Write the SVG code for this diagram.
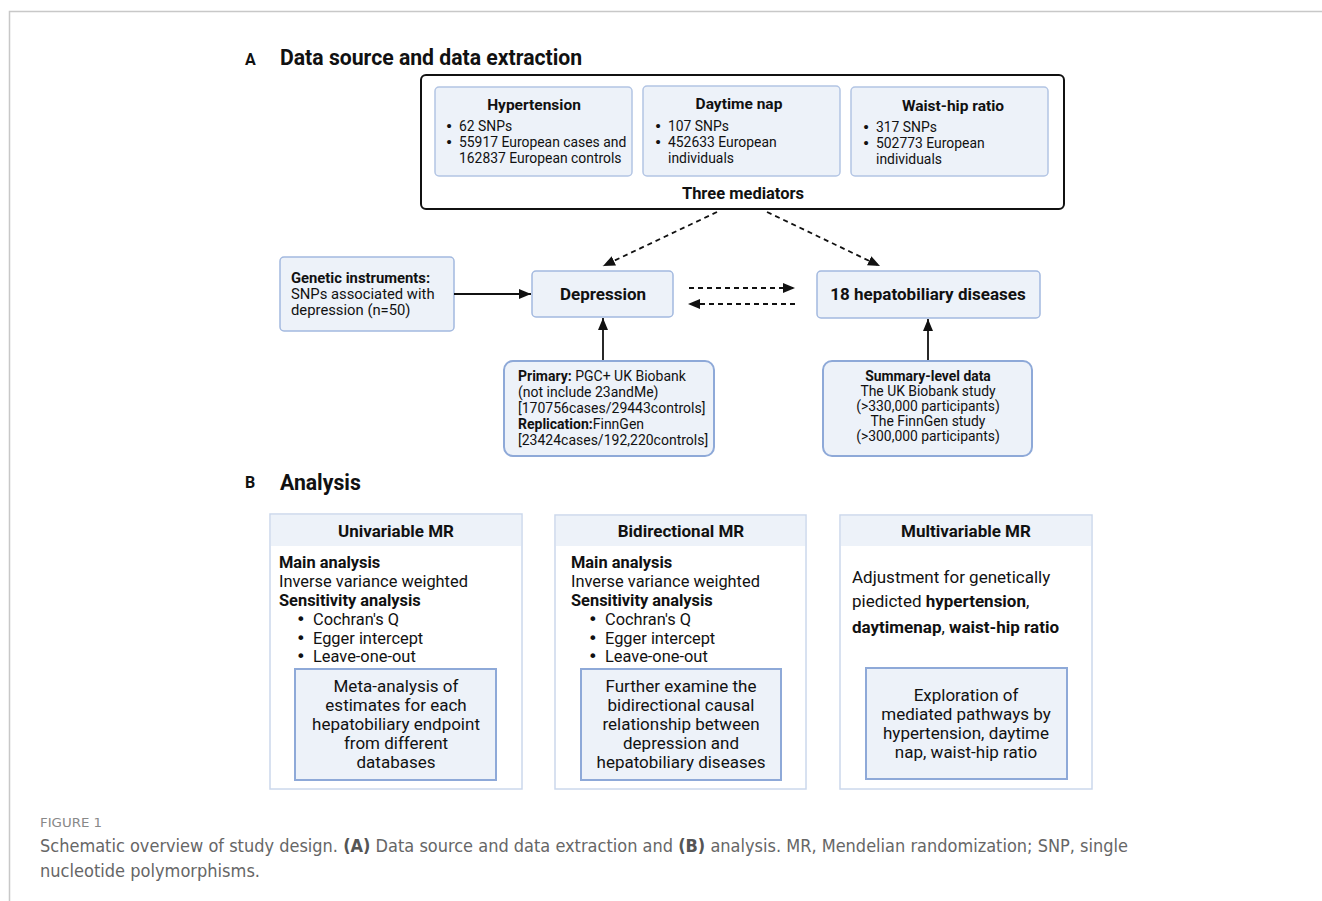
<svg xmlns="http://www.w3.org/2000/svg" width="1322" height="901" viewBox="0 0 1322 901">
<defs>
<style>
text{font-family:Roboto,"Liberation Sans",sans-serif;fill:#111;}
.b{font-weight:bold;}
.h{font-size:21.2px;font-weight:bold;}
.lbl{font-size:17px;font-weight:bold;}
.med{fill:#edf2f9;stroke:#b3c5e4;stroke-width:1.5;}
.node{fill:#edf2f9;stroke:#a3b9df;stroke-width:1.5;}
.src{fill:#edf2f9;stroke:#8ea9d8;stroke-width:2;}
.panel{fill:#fff;stroke:#cbd8ec;stroke-width:1.5;}
.band{fill:#edf2f9;}
.inner{fill:#edf2f9;stroke:#8ea9d8;stroke-width:2;}
.s13{font-size:13.9px;}
.s16{font-size:16.4px;}
.s17{font-size:17px;}
.bu{font-family:"DejaVu Sans",sans-serif;}
.c{text-anchor:middle;}
.solid{stroke:#111;stroke-width:1.8;fill:none;}
.dash{stroke:#111;stroke-width:1.8;fill:none;stroke-dasharray:5,4;}
.cap{font-family:"DejaVu Sans Condensed","Liberation Sans",sans-serif;fill:#666;}
</style>
<marker id="ahL" viewBox="0 0 12 10" refX="12" refY="5" markerWidth="12" markerHeight="10" markerUnits="userSpaceOnUse" orient="auto">
<path d="M0,0 L12,5 L0,10 z" fill="#111"/>
</marker>
</defs>
<rect width="1322" height="901" fill="#fff"/>
<path d="M9.5,901 V11.5 H1322" fill="none" stroke="#c8c8c8" stroke-width="1.5"/>

<text x="245" y="65" style="font-size:16px;font-weight:bold">A</text>
<text x="280" y="65" class="h">Data source and data extraction</text>

<g id="mediators">
<rect x="421" y="75" width="643" height="134" rx="5" fill="#fff" stroke="#111" stroke-width="2"/>
<text x="743" y="199" class="c b" style="font-size:16.5px">Three mediators</text>
</g>
<g id="hypertension">
<rect class="med" x="435" y="87" width="197" height="89" rx="4"/>
<text x="534" y="110" class="c b" style="font-size:15.5px">Hypertension</text>
<text class="s13"><tspan class="bu" x="445" y="131">•</tspan><tspan x="459" y="131">62 SNPs</tspan><tspan class="bu" x="445" y="147">•</tspan><tspan x="459" y="147">55917 European cases and</tspan><tspan x="459" y="163">162837 European controls</tspan></text>
</g>
<g id="daytime">
<rect class="med" x="643" y="86" width="197" height="90" rx="4"/>
<text x="739" y="109" class="c b" style="font-size:15.5px">Daytime nap</text>
<text class="s13"><tspan class="bu" x="654" y="131">•</tspan><tspan x="668" y="131">107 SNPs</tspan><tspan class="bu" x="654" y="147">•</tspan><tspan x="668" y="147">452633 European</tspan><tspan x="668" y="163">individuals</tspan></text>
</g>
<g id="waist">
<rect class="med" x="851" y="87" width="197" height="89" rx="4"/>
<text x="953" y="111" class="c b" style="font-size:15.5px">Waist-hip ratio</text>
<text class="s13"><tspan class="bu" x="862" y="132">•</tspan><tspan x="876" y="132">317 SNPs</tspan><tspan class="bu" x="862" y="148">•</tspan><tspan x="876" y="148">502773 European</tspan><tspan x="876" y="164">individuals</tspan></text>
</g>

<g id="genetic">
<rect class="node" x="280" y="257" width="174" height="74" rx="4"/>
<text style="font-size:14.8px"><tspan x="291" y="283" class="b">Genetic instruments:</tspan><tspan x="291" y="299">SNPs associated with</tspan><tspan x="291" y="315">depression (n=50)</tspan></text>
</g>
<g id="depression">
<rect class="node" x="532" y="271" width="141" height="46" rx="4"/>
<text x="603" y="300" class="c lbl">Depression</text>
</g>
<g id="hepato">
<rect class="node" x="817" y="271" width="223" height="47" rx="4"/>
<text x="928" y="300" class="c lbl">18 hepatobiliary diseases</text>
</g>
<g id="primary">
<rect class="src" x="504" y="361" width="210" height="95" rx="9"/>
<text style="font-size:14px"><tspan x="518" y="381"><tspan class="b">Primary:</tspan> PGC+ UK Biobank</tspan><tspan x="518" y="397">(not include 23andMe)</tspan><tspan x="518" y="413">[170756cases/29443controls]</tspan><tspan x="518" y="429"><tspan class="b">Replication:</tspan>FinnGen</tspan><tspan x="518" y="445">[23424cases/192,220controls]</tspan></text>
</g>
<g id="summary">
<rect class="src" x="823" y="361" width="209" height="95" rx="9"/>
<text class="c" style="font-size:13.9px"><tspan x="928" y="381" class="b">Summary-level data</tspan><tspan x="928" y="396">The UK Biobank study</tspan><tspan x="928" y="411">(&gt;330,000 participants)</tspan><tspan x="928" y="426">The FinnGen study</tspan><tspan x="928" y="441">(&gt;300,000 participants)</tspan></text>
</g>

<g id="connectors">
<line class="solid" x1="454" y1="294" x2="531" y2="294" marker-end="url(#ahL)"/>
<line class="solid" x1="603" y1="360" x2="603" y2="318" marker-end="url(#ahL)"/>
<line class="solid" x1="928" y1="360" x2="928" y2="319" marker-end="url(#ahL)"/>
<line class="dash" x1="717" y1="212" x2="603" y2="266" marker-end="url(#ahL)"/>
<line class="dash" x1="767" y1="212" x2="880" y2="266" marker-end="url(#ahL)"/>
<line class="dash" x1="689" y1="288" x2="795" y2="288" marker-end="url(#ahL)"/>
<line class="dash" x1="795" y1="304" x2="688" y2="304" marker-end="url(#ahL)"/>
</g>

<text x="245" y="488" style="font-size:16px;font-weight:bold">B</text>
<text x="280" y="490" class="h">Analysis</text>

<g id="univariable">
<rect class="panel" x="270" y="514" width="252" height="275"/>
<rect class="band" x="271" y="515" width="250" height="31"/>
<text x="396" y="537" class="c b s17">Univariable MR</text>
<text class="s16"><tspan x="279" y="568" class="b">Main analysis</tspan><tspan x="279" y="587">Inverse variance weighted</tspan><tspan x="279" y="606" class="b">Sensitivity analysis</tspan><tspan class="bu" x="296" y="625">•</tspan><tspan x="313" y="625">Cochran's Q</tspan><tspan class="bu" x="296" y="644">•</tspan><tspan x="313" y="644">Egger intercept</tspan><tspan class="bu" x="296" y="662">•</tspan><tspan x="313" y="662">Leave-one-out</tspan></text>
<rect class="inner" x="295" y="669" width="201" height="111"/>
<text class="s17 c"><tspan x="396" y="692">Meta-analysis of</tspan><tspan x="396" y="711">estimates for each</tspan><tspan x="396" y="730">hepatobiliary endpoint</tspan><tspan x="396" y="749">from different</tspan><tspan x="396" y="768">databases</tspan></text>
</g>
<g id="bidirectional">
<rect class="panel" x="555" y="515" width="251" height="274"/>
<rect class="band" x="556" y="516" width="249" height="30"/>
<text x="681" y="537" class="c b s17">Bidirectional MR</text>
<text class="s16"><tspan x="571" y="568" class="b">Main analysis</tspan><tspan x="571" y="587">Inverse variance weighted</tspan><tspan x="571" y="606" class="b">Sensitivity analysis</tspan><tspan class="bu" x="588" y="625">•</tspan><tspan x="605" y="625">Cochran's Q</tspan><tspan class="bu" x="588" y="644">•</tspan><tspan x="605" y="644">Egger intercept</tspan><tspan class="bu" x="588" y="662">•</tspan><tspan x="605" y="662">Leave-one-out</tspan></text>
<rect class="inner" x="581" y="669" width="200" height="111"/>
<text class="s17 c"><tspan x="681" y="692">Further examine the</tspan><tspan x="681" y="711">bidirectional causal</tspan><tspan x="681" y="730">relationship between</tspan><tspan x="681" y="749">depression and</tspan><tspan x="681" y="768">hepatobiliary diseases</tspan></text>
</g>
<g id="multivariable">
<rect class="panel" x="840" y="515" width="252" height="274"/>
<rect class="band" x="841" y="516" width="250" height="30"/>
<text x="966" y="537" class="c b s17">Multivariable MR</text>
<text class="s17"><tspan x="852" y="583">Adjustment for genetically</tspan><tspan x="852" y="607">piedicted <tspan class="b">hypertension</tspan>,</tspan><tspan x="852" y="633"><tspan class="b">daytimenap</tspan>, <tspan class="b">waist-hip ratio</tspan></tspan></text>
<rect class="inner" x="866" y="668" width="201" height="111"/>
<text class="s17 c"><tspan x="966" y="701">Exploration of</tspan><tspan x="966" y="720">mediated pathways by</tspan><tspan x="966" y="739">hypertension, daytime</tspan><tspan x="966" y="758">nap, waist-hip ratio</tspan></text>
</g>

<text x="40" y="827" class="cap" style="font-size:12px;fill:#888" textLength="62" lengthAdjust="spacingAndGlyphs">FIGURE 1</text>
<text x="40" y="852" class="cap" style="font-size:18px" textLength="1088" lengthAdjust="spacingAndGlyphs">Schematic overview of study design. <tspan font-weight="bold" fill="#555">(A)</tspan> Data source and data extraction and <tspan font-weight="bold" fill="#555">(B)</tspan> analysis. MR, Mendelian randomization; SNP, single</text>
<text x="40" y="877" class="cap" style="font-size:18px" textLength="220" lengthAdjust="spacingAndGlyphs">nucleotide polymorphisms.</text>
</svg>
